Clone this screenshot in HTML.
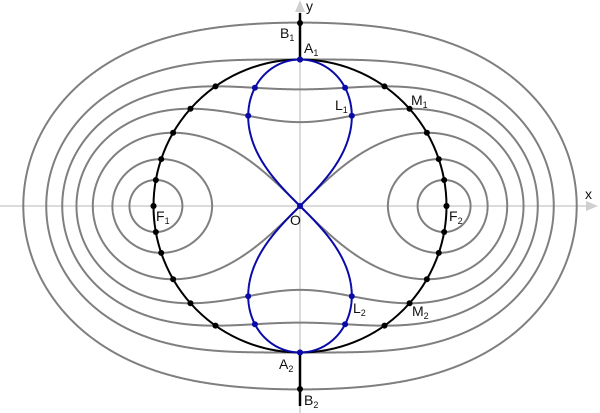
<!DOCTYPE html>
<html><head><meta charset="utf-8"><style>
html,body{margin:0;padding:0;background:#fff;}
svg{display:block;}
text{font-family:"Liberation Sans",sans-serif;font-size:14px;fill:#111;}
.s{font-size:9px;}
</style></head><body>
<svg id="g" width="600" height="413" viewBox="0 0 600 413" xmlns="http://www.w3.org/2000/svg">
<line x1="0" y1="206" x2="588" y2="206" stroke="#cfcfcf" stroke-width="1.5"/>
<polygon points="598,206 586,201 586,211" fill="#cfcfcf"/>
<line x1="300" y1="413" x2="300" y2="10" stroke="#cfcfcf" stroke-width="1.5"/>
<polygon points="300,0 295,12 305,12" fill="#cfcfcf"/>
<g id="gray" fill="none" stroke="#7f7f7f" stroke-width="2"></g>
<circle cx="300" cy="206" r="146.5" fill="none" stroke="#000" stroke-width="2"/>
<line x1="300" y1="13" x2="300" y2="60" stroke="#000" stroke-width="2.5"/>
<line x1="300" y1="352" x2="300" y2="406" stroke="#000" stroke-width="2.5"/>
<g id="blue" fill="none" stroke="#0a0aa8" stroke-width="2"></g>
<g id="dots"></g>
<text x="306" y="11">y</text>
<text x="585" y="199">x</text>
<text x="280" y="38">B<tspan class="s" dy="3">1</tspan></text>
<text x="304" y="53">A<tspan class="s" dy="3">1</tspan></text>
<text x="335" y="110">L<tspan class="s" dy="3">1</tspan></text>
<text x="411" y="105">M<tspan class="s" dy="3">1</tspan></text>
<text x="156" y="221">F<tspan class="s" dy="3">1</tspan></text>
<text x="290" y="225">O</text>
<text x="449" y="221">F<tspan class="s" dy="3">2</tspan></text>
<text x="353" y="313">L<tspan class="s" dy="3">2</tspan></text>
<text x="412" y="316">M<tspan class="s" dy="3">2</tspan></text>
<text x="279" y="369">A<tspan class="s" dy="3">2</tspan></text>
<text x="304" y="405">B<tspan class="s" dy="3">2</tspan></text>
</svg>
<script>
(function(){
var NS="http://www.w3.org/2000/svg",cx=300,cy=206,c=146.5,c2=c*c,c4=c2*c2;
function P(x,y){return (cx+x).toFixed(2)+","+(cy-y).toFixed(2);}
function add(gid,tag,attrs){var e=document.createElementNS(NS,tag);for(var k in attrs)e.setAttribute(k,attrs[k]);document.getElementById(gid).appendChild(e);}
var bs=[7632,13735,21462,28498,35065,2*c2,55098];
var N=2000;
bs.forEach(function(b2){
  var b4=b2*b2;
  if(b2>c2+1){
    var pts=[];
    for(var i=0;i<=N;i++){var t=2*Math.PI*i/N;var r2=c2*Math.cos(2*t)+Math.sqrt(b4-c4*Math.pow(Math.sin(2*t),2));var r=Math.sqrt(Math.max(r2,0));pts.push(P(r*Math.cos(t),r*Math.sin(t)));}
    add("gray","polyline",{points:pts.join(" ")});
  } else if(Math.abs(b2-c2)<=1){
    [0,Math.PI].forEach(function(off){var pts=[];for(var i=0;i<=N;i++){var t=-Math.PI/4+Math.PI/2*i/N;var r=Math.sqrt(Math.max(2*c2*Math.cos(2*t),0));pts.push(P(r*Math.cos(t+off),r*Math.sin(t+off)));}add("gray","polyline",{points:pts.join(" ")});});
  } else {
    var tm=0.5*Math.asin(b2/c2);
    [0,Math.PI].forEach(function(off){var pts=[],pts2=[];for(var i=0;i<=N;i++){var t=-tm+2*tm*i/N;var s=Math.sqrt(Math.max(b4-c4*Math.pow(Math.sin(2*t),2),0));var r1=Math.sqrt(c2*Math.cos(2*t)+s),r2=Math.sqrt(Math.max(c2*Math.cos(2*t)-s,0));pts.push(P(r1*Math.cos(t+off),r1*Math.sin(t+off)));pts2.unshift(P(r2*Math.cos(t+off),r2*Math.sin(t+off)));}add("gray","polygon",{points:pts.concat(pts2).join(" ")});});
  }
});
// blue vertical lemniscate
var bp=[];for(var i=0;i<=N;i++){var t=Math.PI/4+Math.PI/2*i/N;var r=Math.sqrt(Math.max(-c2*Math.cos(2*t),0));bp.push(P(r*Math.cos(t),r*Math.sin(t)));}
add("blue","polyline",{points:bp.join(" ")});
var bp2=[];for(var i=0;i<=N;i++){var t=-3*Math.PI/4+Math.PI/2*i/N;var r=Math.sqrt(Math.max(-c2*Math.cos(2*t),0));bp2.push(P(r*Math.cos(t),r*Math.sin(t)));}
add("blue","polyline",{points:bp2.join(" ")});
function dot(x,y,col){add("dots","circle",{cx:cx+x,cy:cy-y,r:3,fill:col});}
// black dots on circle
[0,7632,13735,21462,28498,35065].forEach(function(b2){var y=b2/(2*c);var x=Math.sqrt(Math.max(c2-y*y,0));[[1,1],[1,-1],[-1,1],[-1,-1]].forEach(function(s){dot(s[0]*x,s[1]*y,"#000");});});
dot(0,c,"#000");dot(0,-c,"#000");dot(0,183,"#000");dot(0,-183,"#000");
// blue dots
[28498,35065].forEach(function(b2){var q=(b2*b2-c4)/(3*c4);var cs=-Math.sqrt(q);var t=0.5*Math.acos(cs);var r=Math.sqrt(-c2*cs);var x=Math.abs(r*Math.cos(t)),y=Math.abs(r*Math.sin(t));[[1,1],[1,-1],[-1,1],[-1,-1]].forEach(function(s){dot(s[0]*x,s[1]*y,"#0a0aa8");});});
dot(0,c,"#0a0aa8");dot(0,-c,"#0a0aa8");dot(0,0,"#0a0aa8");
})();
</script>
</body></html>
